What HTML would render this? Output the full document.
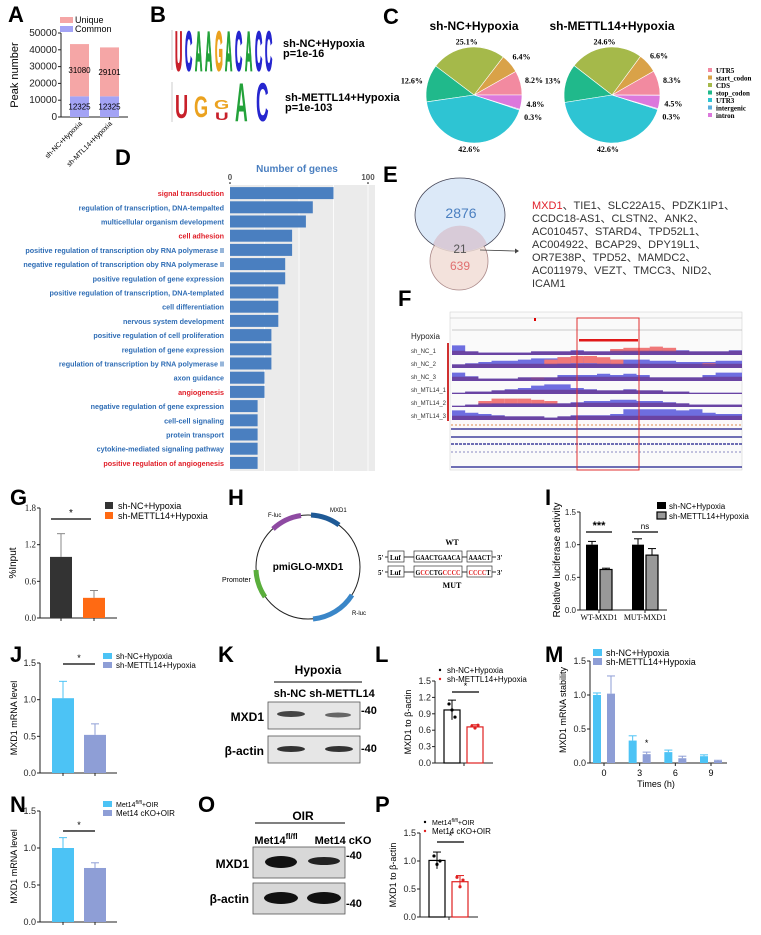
<!DOCTYPE html>
<html><head><meta charset="utf-8"><style>
html,body{margin:0;padding:0;background:#fff;}
svg{display:block;font-family:"Liberation Sans",Arial,sans-serif;}
.pl{font-weight:bold;font-size:22px;fill:#000;}
</style></head><body>
<svg id="fig" xmlns="http://www.w3.org/2000/svg" width="761" height="935" viewBox="0 0 761 935">
<rect x="0" y="0" width="761" height="935" fill="#fff"/>
<text class="pl" x="8" y="22">A</text>
<text class="pl" x="150" y="22">B</text>
<text class="pl" x="383" y="24">C</text>
<text class="pl" x="115" y="165">D</text>
<text class="pl" x="383" y="182">E</text>
<text class="pl" x="398" y="306">F</text>
<text class="pl" x="10" y="505">G</text>
<text class="pl" x="228" y="505">H</text>
<text class="pl" x="545" y="505">I</text>
<text class="pl" x="10" y="662">J</text>
<text class="pl" x="218" y="662">K</text>
<text class="pl" x="375" y="662">L</text>
<text class="pl" x="545" y="662">M</text>
<text class="pl" x="10" y="812">N</text>
<text class="pl" x="198" y="812">O</text>
<text class="pl" x="375" y="812">P</text>

<g font-weight="bold" stroke-width="0.6">
<line x1="172" y1="30" x2="172" y2="70" stroke="#999" stroke-width="0.5"/>
<text transform="translate(175,70) scale(0.72,3.9)" font-size="14" fill="#c8202a" stroke="#c8202a">U</text>
<text transform="translate(185,70) scale(0.72,3.9)" font-size="14" fill="#2626cf" stroke="#2626cf">C</text>
<text transform="translate(195,70) scale(0.72,3.9)" font-size="14" fill="#23a23a" stroke="#23a23a">A</text>
<text transform="translate(205,70) scale(0.72,3.9)" font-size="14" fill="#23a23a" stroke="#23a23a">A</text>
<text transform="translate(215,70) scale(0.72,3.9)" font-size="14" fill="#eba21f" stroke="#eba21f">G</text>
<text transform="translate(225,70) scale(0.72,3.9)" font-size="14" fill="#23a23a" stroke="#23a23a">A</text>
<text transform="translate(235,70) scale(0.72,3.9)" font-size="14" fill="#2626cf" stroke="#2626cf">C</text>
<text transform="translate(245,70) scale(0.72,3.9)" font-size="14" fill="#23a23a" stroke="#23a23a">A</text>
<text transform="translate(255,70) scale(0.72,3.9)" font-size="14" fill="#2626cf" stroke="#2626cf">C</text>
<text transform="translate(265,70) scale(0.72,3.9)" font-size="14" fill="#2626cf" stroke="#2626cf">C</text>
</g>
<text x="283" y="47" font-size="11" font-weight="bold">sh-NC+Hypoxia</text>
<text x="283" y="57" font-size="11" font-weight="bold">p=1e-16</text>
<g font-weight="bold">
<line x1="172" y1="82" x2="172" y2="122" stroke="#999" stroke-width="0.5"/>
<text transform="translate(175,118) scale(1.3,2.4)" font-size="14" fill="#c8202a">U</text>
<text transform="translate(194,117) scale(1.3,2.1)" font-size="14" fill="#eba21f">G</text>
<text transform="translate(214,109) scale(1.4,0.9)" font-size="14" fill="#eba21f">G</text>
<text transform="translate(215,120) scale(1.35,0.8)" font-size="14" fill="#c8202a">U</text>
<text transform="translate(235,121) scale(1.25,3.9)" font-size="14" fill="#23a23a">A</text>
<text transform="translate(256,121) scale(1.25,3.9)" font-size="14" fill="#2626cf">C</text>
</g>
<text x="285" y="101" font-size="11" font-weight="bold">sh-METTL14+Hypoxia</text>
<text x="285" y="111" font-size="11" font-weight="bold">p=1e-103</text>

<text x="474" y="30" font-size="12" font-weight="bold" text-anchor="middle">sh-NC+Hypoxia</text>
<text x="612" y="30" font-size="12" font-weight="bold" text-anchor="middle">sh-METTL14+Hypoxia</text>

<g>
<ellipse cx="460" cy="215" rx="45" ry="37" fill="#dce9f8" stroke="#445" stroke-width="0.8"/>
<circle cx="459" cy="261" r="29" fill="#f1ddd6" fill-opacity="0.85" stroke="#a88" stroke-width="0.8"/>
<path d="M 433 244 A 45 37 0 0 0 487 244 A 29 29 0 0 0 433 244 Z" fill="#d8cbd8"/>
<text x="461" y="218" font-size="14" fill="#4a7fc0" text-anchor="middle">2876</text>
<text x="460" y="253" font-size="12" fill="#555" text-anchor="middle">21</text>
<text x="460" y="270" font-size="12" fill="#e07070" text-anchor="middle">639</text>
<line x1="480" y1="250" x2="515" y2="251" stroke="#444" stroke-width="0.8"/>
<path d="M515 248.5 L519 251 L515 253.5 Z" fill="#444"/>
</g>
<g font-size="11" fill="#333" font-family="Liberation Sans,'Noto Sans CJK SC',sans-serif">
<text x="532" y="209"><tspan fill="#e0202a">MXD1</tspan>、TIE1、SLC22A15、PDZK1IP1、</text>
<text x="532" y="222">CCDC18-AS1、CLSTN2、ANK2、</text>
<text x="532" y="235">AC010457、STARD4、TPD52L1、</text>
<text x="532" y="248">AC004922、BCAP29、DPY19L1、</text>
<text x="532" y="261">OR7E38P、TPD52、MAMDC2、</text>
<text x="532" y="274">AC011979、VEZT、TMCC3、NID2、</text>
<text x="532" y="287">ICAM1</text>
</g>

<g>
<rect x="450" y="312" width="292" height="158" fill="#fafafa" stroke="#ccc" stroke-width="0.5"/>
<line x1="450" y1="318" x2="742" y2="318" stroke="#bbb" stroke-width="0.5"/>
<line x1="452" y1="330" x2="742" y2="330" stroke="#999" stroke-width="0.5"/>
<rect x="534" y="318" width="2" height="3" fill="#d00"/>
<rect x="579" y="339" width="59" height="2.5" fill="#e01818"/>
<text x="411" y="339" font-size="8" fill="#222">Hypoxia</text>
<rect x="447" y="343" width="2" height="78" fill="#d03030"/>
<text x="411" y="353" font-size="6" fill="#333">sh_NC_1</text>
<text x="411" y="366" font-size="6" fill="#333">sh_NC_2</text>
<text x="411" y="379" font-size="6" fill="#333">sh_NC_3</text>
<text x="411" y="392" font-size="6" fill="#333">sh_MTL14_1</text>
<text x="411" y="405" font-size="6" fill="#333">sh_MTL14_2</text>
<text x="411" y="418" font-size="6" fill="#333">sh_MTL14_3</text>
<line x1="451" y1="425" x2="742" y2="425" stroke="#e0a070" stroke-width="1.2" stroke-dasharray="2,2"/>
<line x1="451" y1="429" x2="742" y2="429" stroke="#1a1a8a" stroke-width="1.3"/>
<line x1="451" y1="437" x2="742" y2="437" stroke="#1a1a8a" stroke-width="1.3"/>
<line x1="451" y1="444" x2="742" y2="444" stroke="#1a1a8a" stroke-width="1.3" stroke-dasharray="3,1"/>
<line x1="451" y1="452" x2="742" y2="452" stroke="#1a1a8a" stroke-width="0.6" stroke-dasharray="2,2"/>
<line x1="451" y1="467" x2="742" y2="467" stroke="#1a1a8a" stroke-width="1.3"/>
<g id="tracks"></g>
<rect x="577" y="318" width="62" height="152" fill="none" stroke="#e03030" stroke-width="1"/>
</g>

<g>
<circle cx="308" cy="567" r="52" fill="none" stroke="#222" stroke-width="1"/>
<path d="M 311 515 A 52 52 0 0 1 339 525" fill="none" stroke="#1f5a96" stroke-width="5"/>
<path d="M 273 529 A 52 52 0 0 1 301 515.5" fill="none" stroke="#8e4aa2" stroke-width="5"/>
<path d="M 256 570 A 52 52 0 0 0 265 597" fill="none" stroke="#5aae3c" stroke-width="5"/>
<path d="M 313 619 A 52 52 0 0 0 352 595" fill="none" stroke="#3a86c8" stroke-width="5"/>
<text x="308" y="570" font-size="10" font-weight="bold" text-anchor="middle">pmiGLO-MXD1</text>
<text x="330" y="512" font-size="6">MXD1</text>
<text x="268" y="517" font-size="6">F-luc</text>
<text x="222" y="582" font-size="7">Promoter</text>
<text x="352" y="615" font-size="6">R-luc</text>
</g>
<g font-family="Liberation Serif,serif" font-size="7" font-weight="bold">
<text x="452" y="545" text-anchor="middle" font-size="8">WT</text>
<text x="378" y="560">5'</text><line x1="385" y1="557" x2="388" y2="557" stroke="#333"/>
<rect x="388" y="551" width="16" height="11" fill="none" stroke="#333" stroke-width="0.7"/><text x="390" y="560">Luf</text>
<line x1="404" y1="557" x2="414" y2="557" stroke="#333"/>
<rect x="414" y="551" width="48" height="11" fill="none" stroke="#333" stroke-width="0.7"/><text x="415.5" y="560" textLength="45" lengthAdjust="spacingAndGlyphs">GAACTGAACA</text>
<line x1="462" y1="557" x2="467" y2="557" stroke="#333"/>
<rect x="467" y="551" width="25" height="11" fill="none" stroke="#333" stroke-width="0.7"/><text x="468.5" y="560" textLength="22" lengthAdjust="spacingAndGlyphs">AAACT</text>
<line x1="492" y1="557" x2="496" y2="557" stroke="#333"/><text x="497" y="560">3'</text>
<text x="378" y="575">5'</text><line x1="385" y1="572" x2="388" y2="572" stroke="#333"/>
<rect x="388" y="566" width="16" height="11" fill="none" stroke="#333" stroke-width="0.7"/><text x="390" y="575">Luf</text>
<line x1="404" y1="572" x2="414" y2="572" stroke="#333"/>
<rect x="414" y="566" width="48" height="11" fill="none" stroke="#333" stroke-width="0.7"/><text x="415.5" y="575" textLength="45" lengthAdjust="spacingAndGlyphs">G<tspan fill="#e02020">CC</tspan>CTG<tspan fill="#e02020">CCCC</tspan></text>
<line x1="462" y1="572" x2="467" y2="572" stroke="#333"/>
<rect x="467" y="566" width="25" height="11" fill="none" stroke="#333" stroke-width="0.7"/><text x="468.5" y="575" textLength="22" lengthAdjust="spacingAndGlyphs"><tspan fill="#e02020">CCCC</tspan>T</text>
<line x1="492" y1="572" x2="496" y2="572" stroke="#333"/><text x="497" y="575">3'</text>
<text x="452" y="588" text-anchor="middle" font-size="8">MUT</text>
</g>

<g font-weight="bold">
<text x="318" y="674" font-size="12" text-anchor="middle">Hypoxia</text>
<line x1="274" y1="682" x2="362" y2="682" stroke="#000"/>
<text x="290" y="697" font-size="11" text-anchor="middle">sh-NC</text>
<text x="342" y="697" font-size="11" text-anchor="middle">sh-METTL14</text>
<rect x="268" y="702" width="92" height="27" fill="#e6e6e6" stroke="#555" stroke-width="0.8"/>
<ellipse cx="291" cy="714" rx="14" ry="3" fill="#444"/>
<ellipse cx="338" cy="715" rx="13" ry="2.5" fill="#666"/>
<rect x="268" y="736" width="92" height="27" fill="#e6e6e6" stroke="#555" stroke-width="0.8"/>
<ellipse cx="291" cy="749" rx="14" ry="3" fill="#333"/>
<ellipse cx="339" cy="749" rx="14" ry="3" fill="#333"/>
<text x="264" y="721" font-size="12" text-anchor="end">MXD1</text>
<text x="264" y="755" font-size="12" text-anchor="end">β-actin</text>
<text x="361" y="714" font-size="11">-40</text>
<text x="361" y="752" font-size="11">-40</text>
</g>
<g font-weight="bold">
<text x="303" y="820" font-size="12" text-anchor="middle">OIR</text>
<line x1="255" y1="823" x2="345" y2="823" stroke="#000"/>
<text x="276" y="844" font-size="11" text-anchor="middle">Met14<tspan font-size="8" dy="-5">fl/fl</tspan></text>
<text x="343" y="844" font-size="11" text-anchor="middle">Met14 cKO</text>
<rect x="253" y="847" width="92" height="31" fill="#d8d8d8" stroke="#555" stroke-width="0.8"/>
<ellipse cx="281" cy="862" rx="16" ry="6" fill="#111"/>
<ellipse cx="324" cy="861" rx="16" ry="4" fill="#222"/>
<rect x="253" y="883" width="92" height="31" fill="#d8d8d8" stroke="#555" stroke-width="0.8"/>
<ellipse cx="281" cy="898" rx="17" ry="6" fill="#111"/>
<ellipse cx="324" cy="898" rx="17" ry="6" fill="#111"/>
<text x="249" y="868" font-size="12" text-anchor="end">MXD1</text>
<text x="249" y="903" font-size="12" text-anchor="end">β-actin</text>
<text x="346" y="859" font-size="11">-40</text>
<text x="346" y="907" font-size="11">-40</text>
</g>
<g id="dyn"></g>
</svg>
<script>
const NS='http://www.w3.org/2000/svg';
const root=document.getElementById('dyn');

const peakCategories=['sh-NC+Hypoxia','sh-MTL14+Hypoxia'];
const peakCommon=[12325,12325];
const peakUnique=[31080,29101];
const peakTicks=[0,10000,20000,30000,40000,50000];

const pieLabels=['UTR5','start_codon','CDS','stop_codon','UTR3','intergenic','intron'];
const pieNC=[8.2,6.4,25.1,12.6,42.6,0.3,4.8];
const pieMETTL14=[8.3,6.6,24.6,13,42.6,0.3,4.5];

const goTerms=['signal transduction','regulation of transcription, DNA-tempalted','multicellular organism development','cell adhesion','positive regulation of transcription oby RNA polymerase II','negative regulation of transcription oby RNA polymerase II','positive regulation of gene expression','positive regulation of transcription, DNA-templated','cell differentiation','nervous system development','positive regulation of cell proliferation','regulation of gene expression','regulation of transcription by RNA polymerase II','axon guidance','angiogenesis','negative regulation of gene expression','cell-cell signaling','protein transport','cytokine-mediated signaling pathway','positive regulation of angiogenesis'];
const goCounts=[75,60,55,45,45,40,40,35,35,35,30,30,30,25,25,20,20,20,20,20];
const goHighlighted=['signal transduction','cell adhesion','angiogenesis','positive regulation of angiogenesis'];
const goTicks=[0,100];

const trackNames=['sh_NC_1','sh_NC_2','sh_NC_3','sh_MTL14_1','sh_MTL14_2','sh_MTL14_3'];
const trackBlue=[
[.8,.3,.2,.2,.2,.2,.3,.3,.3,.4,.3,.3,.4,.5,.5,.6,.5,.4,.3,.3,.3,.4],
[.3,.4,.5,.6,.6,.7,.8,.8,.9,.9,.9,.8,.7,.7,.7,.6,.6,.5,.5,.5,.6,.6],
[.7,.4,.2,.2,.2,.3,.3,.3,.5,.5,.5,.6,.5,.6,.5,.3,.3,.3,.3,.5,.7,.7],
[.1,.2,.2,.3,.4,.5,.7,.8,.8,.5,.4,.3,.3,.4,.3,.3,.2,.2,.1,.1,.1,.1],
[.1,.2,.3,.3,.3,.3,.3,.3,.3,.4,.5,.5,.6,.6,.5,.5,.4,.3,.2,.2,.2,.2],
[.8,.6,.5,.4,.3,.3,.3,.2,.3,.4,.4,.4,.5,.9,.9,.9,.9,.8,.9,.6,.5,.5]];
const trackRed=[
[0,0,0,0,0,0,0,0,0,0,0,0,.5,.6,.6,.7,.6,0,0,0,0,0],
[0,0,0,0,0,0,0,.7,.9,1,1,.9,.7,0,0,0,0,0,0,.4,0,0],
[0,0,0,0,0,0,.3,0,0,0,0,0,0,0,0,0,0,0,0,0,0,0],
[0,0,0,0,0,0,0,0,0,0,0,0,0,0,0,0,0,0,0,0,0,0],
[0,0,.5,.7,.7,.7,.6,.5,0,0,0,0,0,0,0,0,0,0,0,0,0,0],
[0,0,0,0,0,0,0,0,0,0,0,0,0,0,0,0,0,0,0,0,0,0]];

const gSeries=['sh-NC+Hypoxia','sh-METTL14+Hypoxia'];
const gValues=[1.0,0.33];
const gErrors=[0.38,0.12];
const gTicks=[0,0.6,1.2,1.8];

const iGroups=['WT-MXD1','MUT-MXD1'];
const iNC=[1.0,1.0];
const iNCErr=[0.05,0.09];
const iSh=[0.62,0.84];
const iShErr=[0.02,0.1];
const iTicks=[0,0.5,1.0,1.5];
const iSig=['***','ns'];

const jValues=[1.02,0.52];
const jErrors=[0.23,0.15];
const nValues=[1.0,0.73];
const nErrors=[0.14,0.07];
const mrnaTicks=[0,0.5,1.0,1.5];

const lValues=[0.97,0.66];
const lErrors=[0.18,0.04];
const lPoints=[[1.08,0.97,0.84],[0.68,0.64,0.69]];
const lTicks=[0,0.3,0.6,0.9,1.2,1.5];

const pValues=[1.01,0.63];
const pErrors=[0.15,0.11];
const pPoints=[[1.09,0.94,1.0],[0.71,0.54,0.66]];
const pTicks=[0,0.5,1.0,1.5];

const mTimes=['0','3','6','9'];
const mNC=[1.0,0.33,0.16,0.1];
const mNCErr=[0.03,0.07,0.03,0.02];
const mSh=[1.02,0.13,0.07,0.03];
const mShErr=[0.26,0.03,0.03,0.01];
const mTicks=[0,0.5,1.0,1.5];

function el(tag,attrs,parent){const e=document.createElementNS(NS,tag);for(const k in attrs)e.setAttribute(k,attrs[k]);(parent||root).appendChild(e);return e;}
function txt(x,y,s,attrs,name){const e=el('text',Object.assign({x:x,y:y},attrs||{}));e.textContent=s;


return e;}
function ln(x1,y1,x2,y2,c,w){return el('line',{x1:x1,y1:y1,x2:x2,y2:y2,stroke:c||'#222','stroke-width':w||1});}
function linScale(d0,d1,r0,r1){return v=>r0+(v-d0)*(r1-r0)/(d1-d0);}
function yAxis(x,y,ticks,fmt,font,name){
 const ax=ln(x,y(ticks[0]),x,y(ticks[ticks.length-1]));
 
 
 ticks.forEach(t=>{ln(x-3,y(t),x,y(t));txt(x-4,y(t)+3,fmt(t),Object.assign({'text-anchor':'end','font-size':9,fill:'#222'},font||{}),'y-tick-label');});
}
function rect(x,y,w,h,fill,stroke,name){const r=el('rect',{x:x,y:y,width:w,height:Math.max(0,h),fill:fill,stroke:stroke||'none','stroke-width':stroke?1.2:0});


return r;}
function errBar(cx,y,yv,ye,c){ln(cx,y(yv),cx,y(yv+ye),c||'#888',1);ln(cx-4,y(yv+ye),cx+4,y(yv+ye),c||'#888',1);}
function rotTitle(x,y,s,size,name){return txt(x,y,s,{'font-size':size||9,'text-anchor':'middle',transform:'rotate(-90 '+x+' '+y+')'},name);}

(function(){
 const y=linScale(0,50000,117,33);
 yAxis(61,y,peakTicks,t=>String(t),{'font-size':10},'peak-y-axis');
 ln(61,117,128,117);
 rotTitle(18,75,'Peak number',11,'peak-y-title');
 const cx=[79.5,109.5];
 peakCategories.forEach((c,i)=>{
  rect(cx[i]-9.5,y(peakCommon[i]),19,y(0)-y(peakCommon[i]),'#a3a3f5',null,'bar-common');
  rect(cx[i]-9.5,y(peakCommon[i]+peakUnique[i]),19,y(peakCommon[i])-y(peakCommon[i]+peakUnique[i]),'#f5a6a6',null,'bar-unique');
  txt(cx[i],y(peakCommon[i]+peakUnique[i]/2)+3,String(peakUnique[i]),{'font-size':8,'text-anchor':'middle'},'unique-value');
  txt(cx[i],y(peakCommon[i]/2)+3,String(peakCommon[i]),{'font-size':8,'text-anchor':'middle'},'common-value');
  ln(cx[i],117,cx[i],120);
  txt(cx[i]+3,124,c,{'font-size':7,'text-anchor':'end',transform:'rotate(-45 '+(cx[i]+3)+' 124)'},'x-tick-label');
 });
 rect(60,17,13,6,'#f5a6a6',null,'legend-unique-swatch');
 txt(75,23,'Unique',{'font-size':9},'legend-unique');
 rect(60,26,13,6,'#a3a3f5',null,'legend-common-swatch');
 txt(75,32,'Common',{'font-size':9},'legend-common');
})();

const pieColors=['#f28aa0','#d9a248','#a5b94a','#20b98b','#2ec4d3','#5aaedc','#dc78dc'];
function pie(cx,cy,r,vals,name){
 let a=0;
 vals.forEach((v,i)=>{
  const a0=a*Math.PI/180, a1=(a+v*3.6)*Math.PI/180;
  const large=v>50?1:0;
  const p=el('path',{d:'M'+cx+' '+cy+' L'+(cx+r*Math.cos(a0))+' '+(cy-r*Math.sin(a0))+' A'+r+' '+r+' 0 '+large+' 0 '+(cx+r*Math.cos(a1))+' '+(cy-r*Math.sin(a1))+' Z',fill:pieColors[i],stroke:'#fff','stroke-width':0.6});
  
  
  const am=(a0+a1)/2; const lr=r+(Math.abs(Math.sin(am))>0.8?6:11);
  let lx=cx+lr*Math.cos(am), ly=cy-lr*Math.sin(am)+3;
  if(i===5){ly+=4;}
  const anchor=Math.cos(am)>0.3?'start':(Math.cos(am)<-0.3?'end':'middle');
  txt(lx+(anchor==='start'?-6:anchor==='end'?6:0),ly,v+'%',{'font-size':8,'font-weight':'bold','text-anchor':anchor,'font-family':'Liberation Serif,serif'},'slice-label');
  a+=v*3.6;
 });
}
pie(474,95,48,pieNC,'pie-nc');
pie(612,95,48,pieMETTL14,'pie-mettl14');
pieLabels.forEach((l,i)=>{
 rect(708,68+i*7.5,4,4,pieColors[i],null,'legend-swatch');
 txt(716,73+i*7.5,l,{'font-size':7,'font-weight':'bold','font-family':'Liberation Serif,serif'},'legend-'+l);
});

(function(){
 const x=linScale(0,100,230,368);
 const rowH=14.2, top=186;
 rect(230,185,145,goTerms.length*rowH+2,'#ebebeb',null,'go-plot-background');
 [25,50,75,100].forEach(t=>ln(x(t),185,x(t),185+goTerms.length*rowH+2,'#fff',0.8));
 goTerms.forEach((t,i)=>{
  const yc=top+i*rowH+rowH/2;
  rect(230,yc-6,x(goCounts[i])-230,12,'#4a7fc0',null,'go-bar');
  txt(224,yc+3,t,{'font-size':7.2,'font-weight':'bold','text-anchor':'end',fill:goHighlighted.includes(t)?'#e0202a':'#2f6db5'},'go-term-label');
 });
 goTicks.forEach(t=>{txt(x(t),180,String(t),{'font-size':8,'font-weight':'bold','text-anchor':'middle',fill:'#555'},'go-tick');el('circle',{cx:x(t),cy:183,r:0.8,fill:'#000'});});
 txt(297,172,'Number of genes',{'font-size':10,'font-weight':'bold','text-anchor':'middle',fill:'#4a7fc0'},'go-axis-title');
})();

(function(){
 const g=document.getElementById('tracks');
 const n=trackBlue[0].length, x0=452, w=(742-x0)/n;
 trackNames.forEach((nm,k)=>{
  const base=355+k*13, H=12;
  let d='M'+x0+' '+base;
  trackBlue[k].forEach((v,i)=>{d+=' L'+(x0+i*w)+' '+(base-v*H)+' L'+(x0+(i+1)*w)+' '+(base-v*H);});
  d+=' L742 '+base+' Z';
  const p=el('path',{d:d,fill:'#6e6ee0'},g);
  
  
  trackRed[k].forEach((v,i)=>{if(v>0){const r=el('rect',{x:x0+i*w,y:base-v*H,width:w,height:v*H*0.6,fill:'#f07878'},g);
   
   }});
  let d2='M'+x0+' '+base;
  trackBlue[k].forEach((v,i)=>{const h=Math.min(v,0.35);d2+=' L'+(x0+i*w)+' '+(base-h*H)+' L'+(x0+(i+1)*w)+' '+(base-h*H);});
  d2+=' L742 '+base+' Z';
  el('path',{d:d2,fill:'#6a3d98','fill-opacity':0.85},g);
 });
})();

(function(){
 const y=linScale(0,1.8,618,508);
 yAxis(40,y,gTicks,t=>t.toFixed(1),{'font-family':'Liberation Serif,serif','font-size':9},'g-y-axis');
 ln(40,618,117,618);
 rotTitle(16,563,'%Input',10,'g-y-title');
 const cx=[61,94], cols=['#333333','#ff6a13'];
 gValues.forEach((v,i)=>{errBar(cx[i],y,v,gErrors[i]);rect(cx[i]-11,y(v),22,618-y(v),cols[i],null,'bar-'+gSeries[i]);ln(cx[i],618,cx[i],621);});
 ln(51,519,91,519,'#000',1.2);txt(71,516,'*',{'font-size':10,'text-anchor':'middle'},'significance-star');
 gSeries.forEach((s,i)=>{rect(105,502+i*10,8,7,cols[i],null,'legend-swatch');txt(118,509+i*10,s,{'font-size':9},'legend-entry');});
})();

(function(){
 const y=linScale(0,1.5,610,512);
 yAxis(580,y,iTicks,t=>t.toFixed(1),{'font-size':8},'i-y-axis');
 ln(580,610,667,610);
 rotTitle(560,560,'Relative luciferase activity',10,'i-y-title');
 const gc=[599,645];
 iGroups.forEach((g,i)=>{
  errBar(gc[i]-7,y,iNC[i],iNCErr[i],'#000');errBar(gc[i]+7,y,iSh[i],iShErr[i],'#000');
  rect(gc[i]-13,y(iNC[i]),12,610-y(iNC[i]),'#000',null,'bar-nc');
  rect(gc[i]+1,y(iSh[i]),12,610-y(iSh[i]),'#999','#000','bar-mettl14');
  ln(gc[i],610,gc[i],613);
  txt(gc[i],620,g,{'font-size':8,'text-anchor':'middle','font-family':'Liberation Serif,serif'},'x-tick-label');
  ln(gc[i]-13,532,gc[i]+13,532,'#000',1.2);
  txt(gc[i],529,iSig[i],{'font-size':i===0?11:8,'text-anchor':'middle','font-weight':i===0?'bold':'normal'},'significance');
 });
 rect(657,502,9,7,'#000',null,'legend-swatch');txt(669,509,'sh-NC+Hypoxia',{'font-size':8},'legend-entry');
 rect(657,512,9,7,'#999','#000','legend-swatch');txt(669,519,'sh-METTL14+Hypoxia',{'font-size':8},'legend-entry');
})();

function mrnaChart(y0,yTop,vals,errs,leg,sigY,name){
 const y=linScale(0,1.5,y0,yTop);
 yAxis(40,y,mrnaTicks,t=>t.toFixed(1),{'font-size':9},name+'-y-axis');
 ln(40,y0,117,y0);
 rotTitle(17,(y0+yTop)/2,'MXD1 mRNA level',9,name+'-y-title');
 const cx=[63,95], cols=['#4cc3f5','#8e9ed6'];
 vals.forEach((v,i)=>{errBar(cx[i],y,v,errs[i],cols[i]);rect(cx[i]-11,y(v),22,y0-y(v),cols[i],null,'bar');ln(cx[i],y0,cx[i],y0+3);});
 ln(63,sigY,95,sigY,'#000',1.2);txt(79,sigY-3,'*',{'font-size':9,'text-anchor':'middle'},'significance-star');
 leg.forEach((s,i)=>{rect(103,yTop-10+i*9,9,6,cols[i],null,'legend-swatch');
  const t=txt(116,yTop-4+i*9,'',{'font-size':i===0&&name==='n'?7:8},'legend-entry');t.innerHTML=s;});
}
mrnaChart(773,663,jValues,jErrors,['sh-NC+Hypoxia','sh-METTL14+Hypoxia'],664,'j');
mrnaChart(922,811,nValues,nErrors,['Met14<tspan font-size="5" dy="-3">fl/fl</tspan><tspan dy="3">+OIR</tspan>','Met14 cKO+OIR'],831,'n');

function dotChart(x0,y0,yTop,max,ticks,vals,errs,pts,leg,sigY,name){
 const y=linScale(0,max,y0,yTop);
 yAxis(x0,y,ticks,t=>t.toFixed(1),{'font-size':9},name+'-y-axis');
 ln(x0,y0,x0+58,y0);
 rotTitle(x0-24,(y0+yTop)/2,'MXD1 to β-actin',9,name+'-y-title');
 const cx=[x0+17,x0+40], cols=['#000','#e02020'];
 vals.forEach((v,i)=>{
  rect(cx[i]-8,y(v),16,y0-y(v),'#fff',cols[i],'bar');
  ln(cx[i],y(v-errs[i]),cx[i],y(v+errs[i]),cols[i]);ln(cx[i]-4,y(v+errs[i]),cx[i]+4,y(v+errs[i]),cols[i]);
  pts[i].forEach((p,j)=>{const c=el('circle',{cx:cx[i]-3+j*3,cy:y(p),r:1.6,fill:cols[i]});
   
   });
 });
 ln(x0+29,y0,x0+29,y0+3);
 ln(cx[0],sigY,cx[1]+4,sigY,'#000',1.2);txt((cx[0]+cx[1])/2+2,sigY-3,'*',{'font-size':9,'text-anchor':'middle'},'significance-star');
 leg.forEach((s,i)=>{el('circle',{cx:x0+5,cy:yTop-11+i*9,r:1.2,fill:cols[i]});
  const t=txt(x0+12,yTop-8+i*9,'',{'font-size':i===0&&name==='p'?7:8},'legend-entry');t.innerHTML=s;});
}
dotChart(435,763,681,1.5,lTicks,lValues,lErrors,lPoints,['sh-NC+Hypoxia','sh-METTL14+Hypoxia'],692,'l');
dotChart(420,917,833,1.5,pTicks,pValues,pErrors,pPoints,['Met14<tspan font-size="5" dy="-3">fl/fl</tspan><tspan dy="3">+OIR</tspan>','Met14 cKO+OIR'],842,'p');

(function(){
 const y=linScale(0,1.5,763,661);
 yAxis(590,y,mTicks,t=>t.toFixed(1),{'font-size':9},'m-y-axis');
 ln(590,763,727,763);
 rotTitle(566,710,'MXD1 mRNA stability',9,'m-y-title');
 const x=linScale(0,3,604,711);
 mTimes.forEach((t,i)=>{
  const c=x(i);
  errBar(c-7,y,mNC[i],mNCErr[i],'#4cc3f5');errBar(c+7,y,mSh[i],mShErr[i],'#8e9ed6');
  rect(c-11,y(mNC[i]),8,763-y(mNC[i]),'#4cc3f5',null,'bar-nc');
  rect(c+3,y(mSh[i]),8,763-y(mSh[i]),'#8e9ed6',null,'bar-mettl14');
  ln(c,763,c,766);
  txt(c,776,t,{'font-size':9,'text-anchor':'middle'},'x-tick-label');
 });
 txt(x(1)+7,y(mSh[1])-8,'*',{'font-size':9,'text-anchor':'middle'},'significance-star');
 txt(656,787,'Times (h)',{'font-size':9,'text-anchor':'middle'},'m-x-title');
 rect(593,649,9,7,'#4cc3f5',null,'legend-swatch');txt(606,656,'sh-NC+Hypoxia',{'font-size':9},'legend-entry');
 rect(593,658,9,7,'#8e9ed6',null,'legend-swatch');txt(606,665,'sh-METTL14+Hypoxia',{'font-size':9},'legend-entry');
})();
</script>
</body></html>
